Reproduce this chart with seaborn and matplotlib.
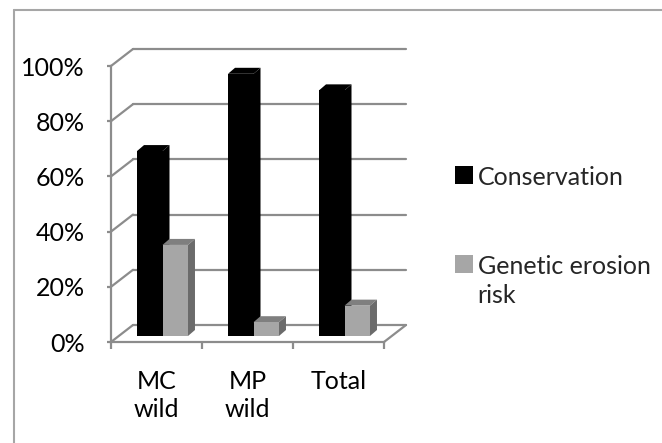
import matplotlib
matplotlib.use("Agg")
import matplotlib.pyplot as plt
import seaborn as sns
import pandas as pd
from matplotlib.patches import Polygon
from matplotlib.lines import Line2D
from matplotlib.ticker import FixedLocator

# ---- data ----
categories = ["MC\nwild", "MP\nwild", "Total"]
series_names = ["Conservation", "Genetic erosion\nrisk"]
conservation = [67, 95, 89]
erosion_risk = [33, 5, 11]
y_ticks = [0, 20, 40, 60, 80, 100]
y_tick_labels = ["0%", "20%", "40%", "60%", "80%", "100%"]

df = pd.DataFrame({
    "category": categories * 2,
    "series": [series_names[0]] * 3 + [series_names[1]] * 3,
    "value": conservation + erosion_risk,
})

sns.set_theme(style="white")
plt.rcParams["font.family"] = ["Lato", "DejaVu Sans"]
FS = 18

W, H = 662, 443
fig = plt.figure(figsize=(W / 100, H / 100), dpi=100)
fig.patch.set_facecolor("white")

# front plane of the 3-D box (pixel coords -> figure fraction)
x0p, x1p, y0p, y1p = 111, 384, 342, 66
ax = fig.add_axes([x0p / W, 1 - y0p / H, (x1p - x0p) / W, (y0p - y1p) / H])
ax.set_facecolor("none")

# pixels -> data units
px_x = 1.0 / ((x1p - x0p) / 3.0)      # category units per pixel
px_y = 100.0 / (y0p - y1p)            # percent per pixel

back_dx, back_dy = 22 * px_x, 17 * px_y     # depth of the wall
bar_dx, bar_dy = 6 * px_x, 6 * px_y         # bars' front face position
dep_dx, dep_dy = 7 * px_x, 6 * px_y         # bar depth

grid_c = "#8c8c8c"
colors = ["#000000", "#a6a6a6"]

sns.barplot(data=df, x="category", y="value", hue="series", palette=colors,
            width=0.56, gap=0, dodge=True, ax=ax, saturation=1,
            edgecolor="none", linewidth=0, zorder=5)

ax.set_xlim(-0.5, 2.5)
ax.set_ylim(0, 100)

# back wall gridlines + left wall diagonals
for v in y_ticks:
    ax.plot([-0.5 + back_dx, 2.5 + back_dx], [v + back_dy, v + back_dy],
            color=grid_c, lw=1.6, clip_on=False, zorder=1)
    ax.plot([-0.5, -0.5 + back_dx], [v, v + back_dy],
            color=grid_c, lw=1.6, clip_on=False, zorder=1)
# floor right edge
ax.plot([2.5, 2.5 + back_dx], [0, back_dy], color=grid_c, lw=1.6,
        clip_on=False, zorder=1)

# 3-D bar decoration
side_cols = {"#000000": ("#000000", "#000000"), "#a6a6a6": ("#7f7f7f", "#6b6b6b")}
bars = [p for p in ax.patches if p.get_height() > 0]
for i, p in enumerate(bars):
    p.set_x(p.get_x() + bar_dx)
    p.set_y(bar_dy)
    p.set_clip_on(False)
    fc = matplotlib.colors.to_hex(p.get_facecolor())
    top_c, side_c = side_cols.get(fc, ("#7f7f7f", "#6b6b6b"))
    xa, xb = p.get_x(), p.get_x() + p.get_width()
    ya, yb = p.get_y(), p.get_y() + p.get_height()
    z = p.get_zorder() + (0.1 if fc == "#000000" else 0.5)
    p.set_zorder(z + 0.05)
    top = Polygon([(xa, yb), (xb, yb), (xb + dep_dx, yb + dep_dy), (xa + dep_dx, yb + dep_dy)],
                  closed=True, facecolor=top_c, edgecolor="none", clip_on=False, zorder=z)
    side = Polygon([(xb, ya), (xb + dep_dx, ya + dep_dy), (xb + dep_dx, yb + dep_dy), (xb, yb)],
                   closed=True, facecolor=side_c, edgecolor="none", clip_on=False, zorder=z)
    ax.add_patch(top)
    ax.add_patch(side)

# spines
for s in ["top", "right"]:
    ax.spines[s].set_visible(False)
for s in ["left", "bottom"]:
    ax.spines[s].set_color(grid_c)
    ax.spines[s].set_linewidth(1.6)

ax.set_yticks(y_ticks)
ax.set_yticklabels(y_tick_labels, fontsize=FS, color="#000000")
ax.tick_params(axis="y", direction="out", length=3, width=1.6, color=grid_c, pad=16, left=True)
ax.set_xticks(range(len(categories)))
ax.set_xticklabels(categories, fontsize=FS, color="#000000", linespacing=1.25)
ax.tick_params(axis="x", which="major", length=0, pad=20)
ax.xaxis.set_minor_locator(FixedLocator([-0.5, 0.5, 1.5, 2.5]))
ax.tick_params(axis="x", which="minor", direction="out", length=5, width=1.6,
               color=grid_c, bottom=True)
ax.set_xlabel("")
ax.set_ylabel("")

# legend
leg = ax.legend_
handles = leg.legend_handles
labels = [t.get_text() for t in leg.get_texts()]
leg.remove()
leg = ax.legend(handles, labels, loc="upper left", bbox_to_anchor=(455 / W, 1 - 166 / H),
                bbox_transform=fig.transFigure, frameon=False, fontsize=FS,
                handlelength=0.7, handleheight=0.7, handletextpad=0.2,
                labelspacing=2.65, borderaxespad=0, borderpad=0)
for t in leg.get_texts():
    t.set_linespacing(1.3)
for col in leg._legend_handle_box.get_children():
    for row in col.get_children():
        row.align = "top"

# chart border (top & left visible)
fig.add_artist(Line2D([13.5 / W, 1], [1 - 9.5 / H, 1 - 9.5 / H], color="#a6a6a6", lw=1.5,
                      transform=fig.transFigure))
fig.add_artist(Line2D([13.5 / W, 13.5 / W], [0, 1 - 9.5 / H], color="#a6a6a6", lw=1.5,
                      transform=fig.transFigure))

fig.savefig("out.png", dpi=100)
